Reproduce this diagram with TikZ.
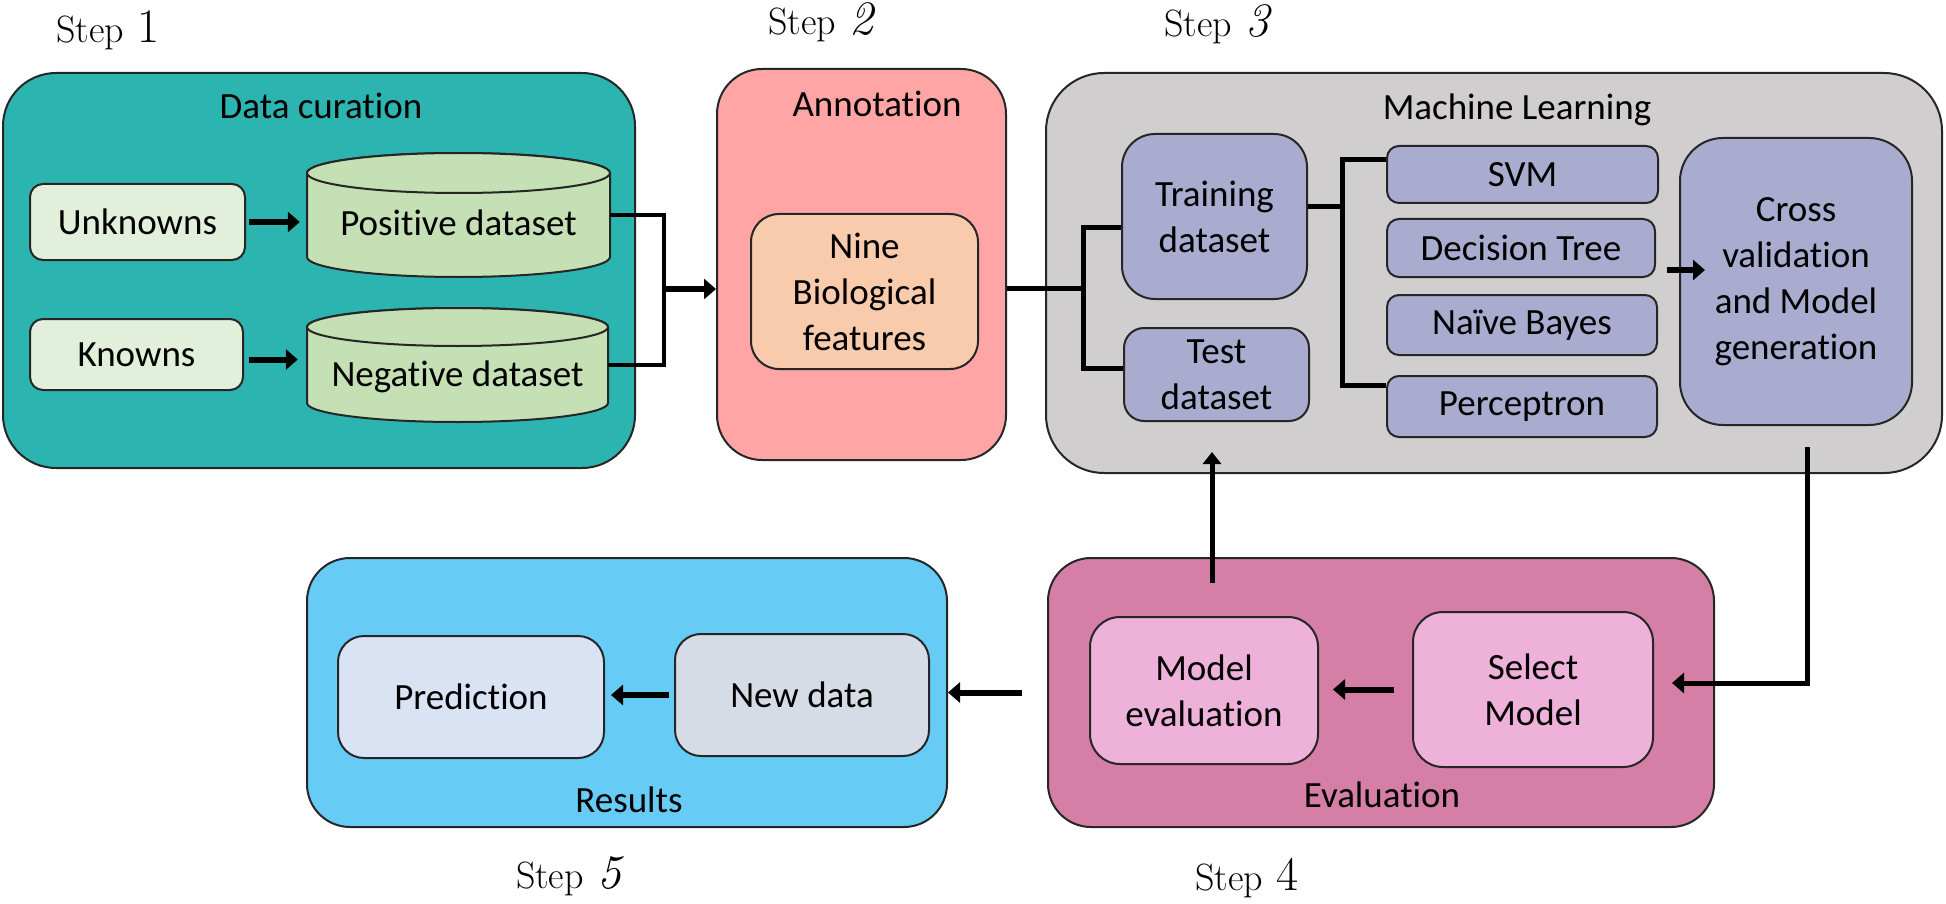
\documentclass[tikz,border=0pt]{standalone}
\usepackage{fontspec}
\newfontfamily\cb[Ligatures={NoCommon,NoContextual}]{Carlito}
\usetikzlibrary{arrows.meta}
\definecolor{cDC}{HTML}{2CB5B0}
\definecolor{cLG}{HTML}{E2EFDA}
\definecolor{cCyl}{HTML}{C5E0B4}
\definecolor{cAnn}{HTML}{FFA5A5}
\definecolor{cNine}{HTML}{F8CBAD}
\definecolor{cML}{HTML}{D0CECE}
\definecolor{cPur}{HTML}{AAACCF}
\definecolor{cEval}{HTML}{D57EA6}
\definecolor{cPink}{HTML}{EEB1DA}
\definecolor{cRes}{HTML}{66CCF6}
\definecolor{cPred}{HTML}{DAE3F3}
\definecolor{cNew}{HTML}{D6DCE5}
\newcommand\stepn[1]{\hspace{0.35em}{\fontsize{48}{48}\selectfont #1}}
\begin{document}
\begin{tikzpicture}[x=1pt,y=-1pt,
  bx/.style={draw=black!85, line width=2pt, font=\cb\fontsize{37}{46}\selectfont, align=center, inner sep=0pt},
  lbl/.style={font=\cb\fontsize{37}{46}\selectfont, align=center, inner sep=0pt},
  stepl/.style={font=\fontsize{38}{44}\selectfont, inner sep=0pt, anchor=base},
  cyl/.style={draw=black!85, line width=2pt, fill=cCyl},
  conn/.style={line width=5pt},
  thinc/.style={line width=3.5pt},
  arr/.style={line width=6pt, -{Triangle[length=12pt,width=20pt]}}
]
\useasboundingbox (0,0) rectangle (1946,904);

% Step labels
\node[stepl] (s1) at (108,43) {Step\stepn{1}};
\node[stepl] (s2) at (822,35) {Step\stepn{\textit{2}}};
\node[stepl] (s3) at (1218,37) {Step\stepn{\textit{3}}};
\node[stepl] (s4) at (1247,890) {Step\stepn{4}};
\node[stepl] (s5) at (570,888) {Step\stepn{\textit{5}}};

% Step 1: Data curation
\node[bx, fill=cDC, rounded corners=53pt, minimum width=632, minimum height=395] (dc) at (319,270.5) {};
\node[lbl, anchor=base] (dcl) at (321,119) {Data curation};
\node[bx, fill=cLG, rounded corners=13pt, minimum width=215, minimum height=76] (unk) at (137.5,222) {Unknowns};
\node[bx, fill=cLG, rounded corners=13pt, minimum width=213, minimum height=71] (kn) at (136.5,354.5) {Knowns};

\filldraw[cyl] (307,173) -- (307,257) arc[start angle=180,end angle=0,x radius=151.5,y radius=20]
  -- (610,173) arc[start angle=360,end angle=180,x radius=151.5,y radius=20] -- cycle;
\draw[cyl] (458.5,173) ellipse[x radius=151.5,y radius=20];
\node[minimum width=303, minimum height=124, inner sep=0pt] (pos) at (458.5,215) {};
\node[lbl] (post) at (458.5,223) {Positive dataset};

\filldraw[cyl] (307,327) -- (307,403) arc[start angle=180,end angle=0,x radius=150.5,y radius=19]
  -- (608,327) arc[start angle=360,end angle=180,x radius=150.5,y radius=19] -- cycle;
\draw[cyl] (457.5,327) ellipse[x radius=150.5,y radius=19];
\node[minimum width=301, minimum height=114, inner sep=0pt] (neg) at (457.5,365) {};
\node[lbl] (negt) at (457.5,377) {Negative dataset};

\draw[arr, shorten <=3pt, shorten >=7pt] (unk.east) -- (unk.east -| pos.west);
\draw[arr, shorten <=5pt, shorten >=9pt] ([yshift=-5pt]kn.east) -- ([yshift=-5pt]kn.east -| neg.west);

\coordinate (brk) at (664,289);
\draw[thinc] (pos.east) -| (brk) |- (neg.east);

% Step 2: Annotation
\node[bx, fill=cAnn, rounded corners=45pt, minimum width=289, minimum height=391] (ann) at (861.5,264.5) {};
\node[lbl, anchor=base] (annl) at (877,117) {Annotation};
\node[bx, fill=cNine, rounded corners=28pt, minimum width=227, minimum height=155] (nine) at (864.5,291.5) {Nine\\Biological\\features};

\draw[arr, shorten <=2pt] (brk) -- (brk -| ann.west);

% Step 3: Machine Learning
\node[bx, fill=cML, rounded corners=58pt, minimum width=896, minimum height=400] (ml) at (1494,273) {};
\node[lbl, anchor=base] (mll) at (1517,120) {Machine Learning};
\node[bx, fill=cPur, rounded corners=33pt, minimum width=185, minimum height=165] (train) at (1214.5,216.5) {Training\\dataset};
\node[bx, fill=cPur, rounded corners=20pt, minimum width=185, minimum height=93] (test) at (1216.5,374.5) {Test\\dataset};
\node[bx, fill=cPur, rounded corners=12pt, minimum width=271, minimum height=57] (svm) at (1522.5,174.5) {SVM};
\node[bx, fill=cPur, rounded corners=12pt, minimum width=268, minimum height=58] (dt) at (1521,248) {Decision Tree};
\node[bx, fill=cPur, rounded corners=12pt, minimum width=270, minimum height=60] (nb) at (1522,325) {Naïve Bayes};
\node[bx, fill=cPur, rounded corners=12pt, minimum width=270, minimum height=61] (perc) at (1522,406.5) {Perceptron};
\node[bx, fill=cPur, rounded corners=43pt, minimum width=232, minimum height=287] (cross) at (1796,281.5) {Cross\\validation\\and Model\\generation};

\coordinate (sp) at (1083,288);
\coordinate (tj) at (1083,228);
\coordinate (ej) at (1083,368);
\draw[conn] (ann.east |- sp) -- (sp);
\draw[conn] (tj -| train.west) -- (tj) -- (ej) -- (ej -| test.west);

\coordinate (aj) at (1342,207);
\coordinate (sj) at (1342,160);
\coordinate (pj) at (1342,385);
\draw[conn] (aj -| train.east) -- (aj);
\draw[conn] (sj -| svm.west) -- (sj) -- (pj) -- (pj -| perc.west);

\coordinate (dc1) at (1667,270);
\coordinate (dc2) at (1705,270);
\draw[arr] (dc1) -- (dc2);

% Step 4: Evaluation
\node[bx, fill=cEval, rounded corners=43pt, minimum width=666, minimum height=269] (eval) at (1381,692.5) {};
\node[lbl, anchor=base] (evall) at (1382,807) {Evaluation};
\node[bx, fill=cPink, rounded corners=30pt, minimum width=228, minimum height=147] (meval) at (1204,690.5) {Model\\evaluation};
\node[bx, fill=cPink, rounded corners=30pt, minimum width=240, minimum height=155] (sel) at (1533,689.5) {Select\\Model};

\coordinate (cs) at (1807,447);
\coordinate (cs2) at (1807,683);
\coordinate (st) at (1672,683);
\draw[conn, -{Triangle[length=12pt,width=20pt]}] (cs) -- (cs2) -- (st);

\coordinate (mu) at (1212,583);
\coordinate (mt) at (1212,452);
\draw[line width=5pt, -{Triangle[length=12pt,width=18pt]}] (mu) -- (mt);

\draw[arr, shorten <=18pt, shorten >=14pt] (sel.west) -- (sel.west -| meval.east);

% Step 5: Results
\node[bx, fill=cRes, rounded corners=43pt, minimum width=640, minimum height=269] (res) at (627,692.5) {};
\node[lbl, anchor=base] (resl) at (629,812) {Results};
\node[bx, fill=cPred, rounded corners=26pt, minimum width=266, minimum height=122] (pred) at (471,697) {Prediction};
\node[bx, fill=cNew, rounded corners=26pt, minimum width=254, minimum height=122] (new) at (802,695) {New data};

\draw[arr, shorten <=25pt] (eval.west) -- (res.east);
\draw[arr, shorten <=5pt, shorten >=6pt] (new.west) -- (new.west -| pred.east);
\end{tikzpicture}
\end{document}
